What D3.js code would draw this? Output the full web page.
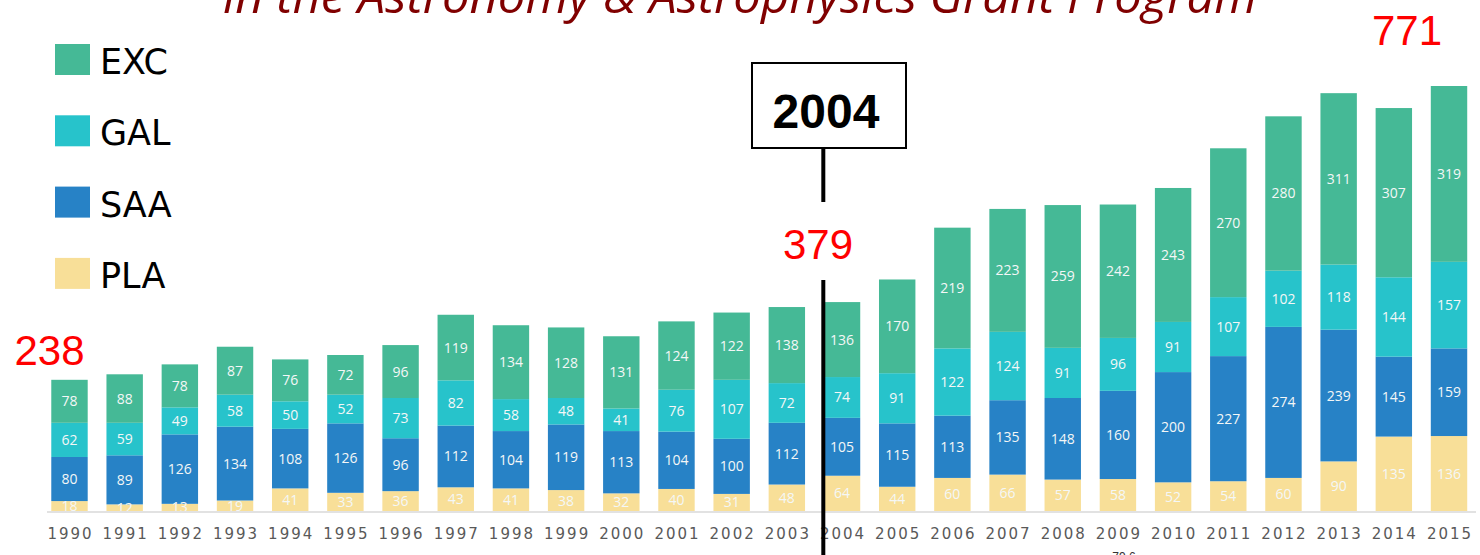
<!DOCTYPE html>
<html>
<head>
<meta charset="utf-8">
<script src="https://cdn.jsdelivr.net/npm/d3@7"></script>
<style>
  body { margin: 0; background: #fff; }
  svg { display: block; }
</style>
</head>
<body>
<div id="chart"></div>
<script>
const years = ["1990","1991","1992","1993","1994","1995","1996","1997","1998","1999","2000","2001","2002",
               "2003","2004","2005","2006","2007","2008","2009","2010","2011","2012","2013","2014","2015"];
const PLA = [18,12,13,19,41,33,36,43,41,38,32,40,31,48,64,44,60,66,57,58,52,54,60,90,135,136];
const SAA = [80,89,126,134,108,126,96,112,104,119,113,104,100,112,105,115,113,135,148,160,200,227,274,239,145,159];
const GAL = [62,59,49,58,50,52,73,82,58,48,41,76,107,72,74,91,122,124,91,96,91,107,102,118,144,157];
const EXC = [78,88,78,87,76,72,96,119,134,128,131,124,122,138,136,170,219,223,259,242,243,270,280,311,307,319];
const seriesKeys = ["PLA", "SAA", "GAL", "EXC"];
const legendKeys = ["EXC", "GAL", "SAA", "PLA"];
const highlightYears = ["1990", "2004", "2015"];
const markerYear = "2004";
const title = "in the Astronomy & Astrophysics Grant Program";

const colors = { EXC: "#45b996", GAL: "#27c3cb", SAA: "#2782c6", PLA: "#f8df98" };

const W = 1480, H = 555;
const rows = years.map((yr, i) => ({ year: yr, PLA: PLA[i], SAA: SAA[i], GAL: GAL[i], EXC: EXC[i] }));
const totals = rows.map(d => d.PLA + d.SAA + d.GAL + d.EXC);

const svg = d3.select("#chart").append("svg")
    .attr("width", W)
    .attr("height", H);

svg.append("defs").append("clipPath")
    .attr("id", "plotClip")
    .append("rect")
    .attr("x", 0).attr("y", 0).attr("width", W).attr("height", 511);

const x = d3.scaleBand()
    .domain(years)
    .range([41.9, 1476.6])
    .paddingInner(0.34)
    .paddingOuter(0.17);

const y = d3.scaleLinear()
    .domain([0, 771])
    .range([511, 86]);

// title (mostly cut off at top of slide)
svg.append("text")
    .attr("x", 223)
    .attr("y", 13)
    .attr("textLength", 1034)
    .attr("lengthAdjust", "spacingAndGlyphs")
    .style("font-family", "'Open Sans', sans-serif")
    .style("font-style", "italic")
    .style("font-size", "48px")
    .style("fill", "#800000")
    .text(title);

// stacked bars
const stacked = d3.stack().keys(seriesKeys)(rows);

const layers = svg.append("g")
    .selectAll("g")
    .data(stacked)
    .enter()
    .append("g")
    .attr("fill", d => colors[d.key]);

layers.selectAll("rect")
    .data(d => d)
    .enter()
    .append("rect")
    .attr("x", d => x(d.data.year))
    .attr("y", d => y(d[1]))
    .attr("width", x.bandwidth())
    .attr("height", d => y(d[0]) - y(d[1]));

// segment values
const labels = svg.append("g")
    .attr("clip-path", "url(#plotClip)")
    .style("font-family", "'Open Sans', sans-serif")
    .style("font-size", "14px")
    .style("fill", "#f4f7f7")
    .attr("text-anchor", "middle");

stacked.forEach(layer => {
    labels.selectAll(null)
        .data(layer)
        .enter()
        .append("text")
        .attr("x", d => x(d.data.year) + x.bandwidth() / 2)
        .attr("y", d => (y(d[0]) + y(d[1])) / 2 + 5)
        .text(d => d[1] - d[0]);
});

// baseline
svg.append("line")
    .attr("x1", 47).attr("x2", 1476)
    .attr("y1", 512).attr("y2", 512)
    .attr("stroke", "#d9d9d9")
    .attr("stroke-width", 1.5);

// year labels
const xAxis = svg.append("g")
    .attr("transform", "translate(1,539)")
    .call(d3.axisBottom(x).tickSize(0).tickPadding(0));
xAxis.select(".domain").remove();
xAxis.selectAll("text")
    .attr("dy", 0)
    .style("font-family", "'DejaVu Sans', sans-serif")
    .style("font-size", "15px")
    .style("letter-spacing", "2px")
    .style("fill", "#595959");

// 2004 marker line
const mx = x(markerYear) - 0.5;
svg.append("line")
    .attr("x1", mx).attr("x2", mx)
    .attr("y1", 148).attr("y2", H)
    .attr("stroke", "#000")
    .attr("stroke-width", 4);

// total labels in red
const totalOffsets = { "1990": [-20, -15], "2004": [-24, -43], "2015": [-42, -41] };
highlightYears.forEach(yr => {
    const i = years.indexOf(yr);
    const cx = x(yr) + x.bandwidth() / 2 + totalOffsets[yr][0];
    const cy = y(totals[i]) + totalOffsets[yr][1];
    if (yr === markerYear) {
        svg.append("rect")
            .attr("x", cx - 42).attr("y", 202)
            .attr("width", 84).attr("height", 78)
            .attr("fill", "#fff");
    }
    svg.append("text")
        .attr("x", cx)
        .attr("y", cy)
        .attr("text-anchor", "middle")
        .style("font-family", "'Liberation Sans', Arial, sans-serif")
        .style("font-size", "42px")
        .style("fill", "#ff0000")
        .text(totals[i]);
});

// 2004 box
svg.append("rect")
    .attr("x", 752).attr("y", 63)
    .attr("width", 154).attr("height", 85)
    .attr("fill", "#fff")
    .attr("stroke", "#000")
    .attr("stroke-width", 2);
svg.append("text")
    .attr("x", 826)
    .attr("y", 128)
    .attr("text-anchor", "middle")
    .style("font-family", "'Liberation Sans', Arial, sans-serif")
    .style("font-weight", "bold")
    .style("font-size", "48px")
    .style("fill", "#000")
    .text(markerYear);

// legend
const legend = svg.append("g")
    .selectAll("g")
    .data(legendKeys)
    .enter()
    .append("g")
    .attr("transform", (d, i) => `translate(55,${44 + i * 71.3})`);

legend.append("rect")
    .attr("width", 35)
    .attr("height", 31)
    .attr("fill", d => colors[d]);

legend.append("text")
    .attr("x", 45)
    .attr("y", 30)
    .style("font-family", "'DejaVu Sans', sans-serif")
    .style("font-size", "35px")
    .style("fill", "#000")
    .text(d => d);

// stray label cut off at slide bottom
svg.append("text")
    .attr("x", 1124)
    .attr("y", 561)
    .attr("text-anchor", "middle")
    .style("font-family", "'Liberation Sans', Arial, sans-serif")
    .style("font-size", "12px")
    .style("fill", "#333")
    .text("79.6");
</script>
</body>
</html>
